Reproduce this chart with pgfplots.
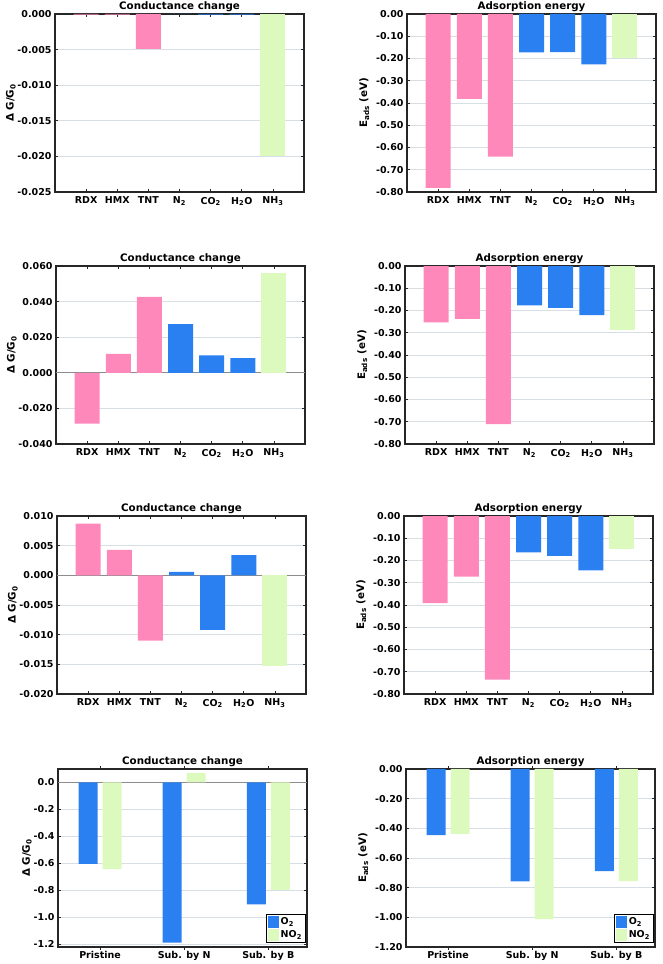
\documentclass[border=0pt]{standalone}
\usepackage{pgfplots}
\pgfplotsset{compat=1.18}
\usepackage{fontspec}
\setmainfont{DejaVu Sans}
\definecolor{pinkc}{RGB}{255,136,187}
\definecolor{bluec}{RGB}{42,128,240}
\definecolor{greenc}{RGB}{221,250,190}
\definecolor{gridc}{RGB}{215,222,228}
\newcommand{\lf}{\fontsize{9.5}{11}\selectfont\bfseries}
\newcommand{\tf}{\fontsize{10.3}{12}\selectfont\bfseries}
\pgfplotsset{
 panel/.style={
  scale only axis, width=249pt, height=178pt, anchor=south west,
  axis line style={line width=1.1pt, black!85},
  ymajorgrids, grid style={line width=0.7pt, color=gridc},
  tick align=inside, major tick length=3pt, tick style={black!85, line width=0.6pt},
  scaled y ticks=false,
  /pgf/number format/assume math mode=true,
  tick label style={font=\lf},
  label style={font=\tf},
  title style={font=\tf, yshift=-7pt},
 },
 cat7/.style={
  bar width=25pt, xmin=-1, xmax=7, xtick={0,...,6},
  xticklabel style={yshift=-1.5pt},
  xticklabels={RDX,HMX,TNT,N\textsubscript{2},CO\textsubscript{2},H\textsubscript{2}O,NH\textsubscript{3}},
 },
 cat3/.style={
  ybar=5pt, bar width=19pt, xmin=-0.5, xmax=2.46, xtick={0,1,2},
  xticklabel style={inner sep=1pt},
  xticklabels={Pristine,Sub. by N,Sub. by B},
  legend style={at={(1,0)}, anchor=south east, xshift=-1pt, yshift=4pt, draw=black, line width=1.2pt, font=\lf, inner sep=1.5pt, row sep=0pt, cells={anchor=west}},
  legend image code/.code={\fill[##1] (0pt,-6pt) rectangle (11pt,6pt);},
 },
 zeroline/.style={extra y ticks={0}, extra y tick labels={}, extra y tick style={grid style={line width=0.8pt,color=black!45}, major tick length=0pt}},
 gy/.style={ylabel={Δ G/G\textsubscript{0}}, ylabel shift=-5pt},
 ey/.style={ylabel={E\textsubscript{ads} (eV)}},
}
\begin{document}
\begin{tikzpicture}
\path[use as bounding box] (0pt,0pt) rectangle (662pt,964pt);
% Panel 1
\begin{axis}[panel, cat7, gy, at={(55pt,772pt)}, title={Conductance change},
  ymin=-0.025, ymax=0, ytick={-0.025,-0.02,...,0},
  yticklabel style={/pgf/number format/.cd, fixed, fixed zerofill, precision=3}]
\addplot[ybar, bar shift=0pt, fill=pinkc, draw=none] coordinates {(0,-0.0001) (1,-0.0001) (2,-0.0049)};
\addplot[ybar, bar shift=0pt, fill=bluec, draw=none] coordinates {(3,0) (4,-0.0001) (5,-0.0001)};
\addplot[ybar, bar shift=0pt, fill=greenc, draw=none] coordinates {(6,-0.0200)};
\end{axis}
% Panel 2
\begin{axis}[panel, cat7, ey, at={(407pt,772pt)}, title={Adsorption energy},
  ymin=-0.8, ymax=0, ytick={-0.8,-0.7,...,0},
  yticklabel style={/pgf/number format/.cd, fixed, fixed zerofill, precision=2}]
\addplot[ybar, bar shift=0pt, fill=pinkc, draw=none] coordinates {(0,-0.782) (1,-0.382) (2,-0.641)};
\addplot[ybar, bar shift=0pt, fill=bluec, draw=none] coordinates {(3,-0.173) (4,-0.171) (5,-0.226)};
\addplot[ybar, bar shift=0pt, fill=greenc, draw=none] coordinates {(6,-0.198)};
\end{axis}
% Panel 3
\begin{axis}[panel, cat7, gy, zeroline, at={(56pt,520pt)}, title={Conductance change},
  ymin=-0.04, ymax=0.06, ytick={-0.04,-0.02,0,0.02,0.04,0.06},
  yticklabel style={/pgf/number format/.cd, fixed, fixed zerofill, precision=3}]
\addplot[ybar, bar shift=0pt, fill=pinkc, draw=none] coordinates {(0,-0.0286) (1,0.0107) (2,0.0427)};
\addplot[ybar, bar shift=0pt, fill=bluec, draw=none] coordinates {(3,0.0273) (4,0.0098) (5,0.0083)};
\addplot[ybar, bar shift=0pt, fill=greenc, draw=none] coordinates {(6,0.0558)};
\end{axis}
% Panel 4
\begin{axis}[panel, cat7, ey, at={(405pt,520pt)}, title={Adsorption energy},
  ymin=-0.8, ymax=0, ytick={-0.8,-0.7,...,0},
  yticklabel style={/pgf/number format/.cd, fixed, fixed zerofill, precision=2}]
\addplot[ybar, bar shift=0pt, fill=pinkc, draw=none] coordinates {(0,-0.253) (1,-0.238) (2,-0.711)};
\addplot[ybar, bar shift=0pt, fill=bluec, draw=none] coordinates {(3,-0.177) (4,-0.188) (5,-0.221)};
\addplot[ybar, bar shift=0pt, fill=greenc, draw=none] coordinates {(6,-0.289)};
\end{axis}
% Panel 5
\begin{axis}[panel, cat7, gy, zeroline, at={(57pt,270pt)}, title={Conductance change},
  ymin=-0.02, ymax=0.01, ytick={-0.02,-0.015,-0.01,-0.005,0,0.005,0.01},
  yticklabel style={/pgf/number format/.cd, fixed, fixed zerofill, precision=3}]
\addplot[ybar, bar shift=0pt, fill=pinkc, draw=none] coordinates {(0,0.0087) (1,0.0043) (2,-0.0110)};
\addplot[ybar, bar shift=0pt, fill=bluec, draw=none] coordinates {(3,0.0006) (4,-0.0092) (5,0.0034)};
\addplot[ybar, bar shift=0pt, fill=greenc, draw=none] coordinates {(6,-0.0153)};
\end{axis}
% Panel 6
\begin{axis}[panel, cat7, ey, at={(404pt,270pt)}, title={Adsorption energy},
  ymin=-0.8, ymax=0, ytick={-0.8,-0.7,...,0},
  yticklabel style={/pgf/number format/.cd, fixed, fixed zerofill, precision=2}]
\addplot[ybar, bar shift=0pt, fill=pinkc, draw=none] coordinates {(0,-0.392) (1,-0.273) (2,-0.735)};
\addplot[ybar, bar shift=0pt, fill=bluec, draw=none] coordinates {(3,-0.164) (4,-0.179) (5,-0.244)};
\addplot[ybar, bar shift=0pt, fill=greenc, draw=none] coordinates {(6,-0.149)};
\end{axis}
% Panel 7
\begin{axis}[panel, cat3, gy, zeroline, at={(58pt,17pt)}, title={Conductance change},
  ymin=-1.22, ymax=0.1, ytick={-1.2,-1.0,-0.8,-0.6,-0.4,-0.2,0},
  yticklabel style={/pgf/number format/.cd, fixed, fixed zerofill, precision=1}]
\addplot[fill=bluec, draw=none] coordinates {(0,-0.604) (1,-1.188) (2,-0.904)};
\addplot[fill=greenc, draw=none] coordinates {(0,-0.641) (1,0.071) (2,-0.796)};
\legend{O\textsubscript{2},NO\textsubscript{2}}
\end{axis}
% Panel 8
\begin{axis}[panel, cat3, ey, at={(406pt,17pt)}, title={Adsorption energy},
  ymin=-1.2, ymax=0, ytick={-1.2,-1.0,-0.8,-0.6,-0.4,-0.2,0},
  yticklabel style={/pgf/number format/.cd, fixed, fixed zerofill, precision=2}]
\addplot[fill=bluec, draw=none] coordinates {(0,-0.446) (1,-0.758) (2,-0.689)};
\addplot[fill=greenc, draw=none] coordinates {(0,-0.437) (1,-1.012) (2,-0.756)};
\legend{O\textsubscript{2},NO\textsubscript{2}}
\end{axis}
\end{tikzpicture}
\end{document}
